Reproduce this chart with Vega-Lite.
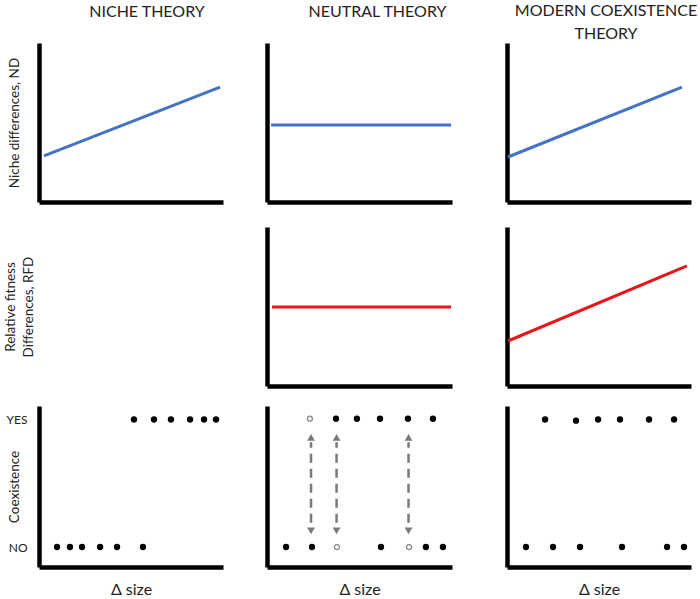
{
  "$schema": "https://vega.github.io/schema/vega-lite/v6.json",
  "padding": {"left": 3, "top": 3, "right": 0, "bottom": 0},
  "config": {
    "font": "Lato",
    "view": {"stroke": null},
    "axis": {
      "domainColor": "#000000",
      "domainWidth": 4.5,
      "ticks": false,
      "tickSize": 0,
      "labels": false,
      "grid": false,
      "titleFont": "Lato",
      "titleFontWeight": "normal",
      "titleColor": "#222222",
      "titleFontSize": 13.5,
      "labelFont": "Lato",
      "labelColor": "#222222",
      "labelFontSize": 12
    },
    "title": {"font": "Lato", "fontSize": 16, "fontWeight": "normal", "color": "#222222", "baseline": "bottom", "lineHeight": 23, "anchor": "middle"},
    "line": {"strokeWidth": 3},
    "point": {"size": 40}
  },
  "spacing": 20,
  "vconcat": [
    {
      "spacing": 25,
      "vconcat": [
        {
          "spacing": 44,
          "bounds": "flush",
          "hconcat": [
            {
              "width": 184, "height": 159,
              "title": {"text": "NICHE THEORY", "dx": 16, "offset": 23},
              "data": {"values": [{"x": 2.7, "y": 29}, {"x": 98.4, "y": 72.3}]},
              "mark": {"type": "line", "color": "#4472C4"},
              "encoding": {
                "x": {"field": "x", "type": "quantitative", "scale": {"domain": [0, 100], "nice": false, "zero": false}, "axis": {"title": null}},
                "y": {"field": "y", "type": "quantitative", "scale": {"domain": [0, 100], "nice": false, "zero": false}, "axis": {"title": "Niche differences, ND", "titlePadding": 18}}
              }
            },
            {
              "spacing": 55,
              "bounds": "flush",
              "hconcat": [
                {
                  "width": 185, "height": 159,
                  "title": {"text": "NEUTRAL THEORY", "dx": 18, "offset": 23},
                  "data": {"values": [{"x": 2.2, "y": 48.4}, {"x": 99.5, "y": 48.4}]},
                  "mark": {"type": "line", "color": "#4472C4"},
                  "encoding": {
                    "x": {"field": "x", "type": "quantitative", "scale": {"domain": [0, 100], "nice": false, "zero": false}, "axis": {"title": null}},
                    "y": {"field": "y", "type": "quantitative", "scale": {"domain": [0, 100], "nice": false, "zero": false}, "axis": {"title": null}}
                  }
                },
                {
                  "width": 184, "height": 159,
                  "title": {"text": ["MODERN COEXISTENCE", "THEORY"], "dx": 7, "offset": 1},
                  "data": {"values": [{"x": 0.5, "y": 28.3}, {"x": 95.1, "y": 72.3}]},
                  "mark": {"type": "line", "color": "#4472C4"},
                  "encoding": {
                    "x": {"field": "x", "type": "quantitative", "scale": {"domain": [0, 100], "nice": false, "zero": false}, "axis": {"title": null}},
                    "y": {"field": "y", "type": "quantitative", "scale": {"domain": [0, 100], "nice": false, "zero": false}, "axis": {"title": null}}
                  }
                }
              ]
            }
          ]
        },
        {
          "spacing": 44,
          "bounds": "flush",
          "hconcat": [
            {
              "width": 184, "height": 159,
              "data": {"values": [{"x": 50, "y": 50}]},
              "mark": {"type": "point", "opacity": 0},
              "encoding": {
                "x": {"field": "x", "type": "quantitative", "scale": {"domain": [0, 100], "nice": false, "zero": false}, "axis": null},
                "y": {"field": "y", "type": "quantitative", "scale": {"domain": [0, 100], "nice": false, "zero": false}, "axis": {"domain": false, "title": ["Relative fitness", "Differences, RFD"], "titleLineHeight": 18, "titlePadding": 4}}
              }
            },
            {
              "spacing": 55,
              "bounds": "flush",
              "hconcat": [
                {
                  "width": 185, "height": 159,
                  "data": {"values": [{"x": 2.7, "y": 49.7}, {"x": 99.5, "y": 49.7}]},
                  "mark": {"type": "line", "color": "#E8161B"},
                  "encoding": {
                    "x": {"field": "x", "type": "quantitative", "scale": {"domain": [0, 100], "nice": false, "zero": false}, "axis": {"title": null}},
                    "y": {"field": "y", "type": "quantitative", "scale": {"domain": [0, 100], "nice": false, "zero": false}, "axis": {"title": null}}
                  }
                },
                {
                  "width": 184, "height": 159,
                  "data": {"values": [{"x": 0.5, "y": 28.3}, {"x": 97.8, "y": 75.5}]},
                  "mark": {"type": "line", "color": "#E8161B"},
                  "encoding": {
                    "x": {"field": "x", "type": "quantitative", "scale": {"domain": [0, 100], "nice": false, "zero": false}, "axis": {"title": null}},
                    "y": {"field": "y", "type": "quantitative", "scale": {"domain": [0, 100], "nice": false, "zero": false}, "axis": {"title": null}}
                  }
                }
              ]
            }
          ]
        }
      ]
    },
    {
      "spacing": 44,
      "bounds": "flush",
      "hconcat": [
        {
          "width": 184, "height": 161,
          "data": {"values": [
            {"x": 9.8, "y": 12.4}, {"x": 16.8, "y": 12.4}, {"x": 23.4, "y": 12.4}, {"x": 33.2, "y": 12.4}, {"x": 42.4, "y": 12.4}, {"x": 56.5, "y": 12.4},
            {"x": 51.6, "y": 91.6}, {"x": 62.5, "y": 91.6}, {"x": 71.7, "y": 91.6}, {"x": 82.1, "y": 91.6}, {"x": 89.7, "y": 91.6}, {"x": 96.2, "y": 91.6}
          ]},
          "mark": {"type": "point", "filled": true, "color": "#000000", "opacity": 1},
          "encoding": {
            "x": {"field": "x", "type": "quantitative", "scale": {"domain": [0, 100], "nice": false, "zero": false}, "axis": {"title": "Δ size", "titleFontSize": 16, "titlePadding": 14}},
            "y": {"field": "y", "type": "quantitative", "scale": {"domain": [0, 100], "nice": false, "zero": false}, "axis": {"title": "Coexistence", "labels": true, "values": [12.4, 91.6], "labelExpr": "datum.value > 50 ? 'YES' : 'NO'", "labelPadding": 12, "titlePadding": -15}}
          }
        },
        {
          "spacing": 55,
          "bounds": "flush",
          "hconcat": [
            {
              "width": 185, "height": 161,
              "encoding": {
                "x": {"field": "x", "type": "quantitative", "scale": {"domain": [0, 100], "nice": false, "zero": false}, "axis": {"title": "Δ size", "titleFontSize": 16, "titlePadding": 14}},
                "y": {"field": "y", "type": "quantitative", "scale": {"domain": [0, 100], "nice": false, "zero": false}, "axis": {"title": null}}
              },
              "layer": [
                {
                  "data": {"values": [{"x": 23.8, "y": 27.5, "y2": 77.5}, {"x": 37.6, "y": 27.5, "y2": 77.5}, {"x": 76.5, "y": 27.5, "y2": 77.5}]},
                  "mark": {"type": "rule", "color": "#7a7a7a", "strokeWidth": 2.5, "strokeDash": [9, 6]},
                  "encoding": {"y2": {"field": "y2"}}
                },
                {
                  "data": {"values": [{"x": 23.8, "y": 80.5}, {"x": 37.6, "y": 80.5}, {"x": 76.5, "y": 80.5}]},
                  "mark": {"type": "point", "shape": "triangle-up", "filled": true, "color": "#7a7a7a", "size": 60, "opacity": 1}
                },
                {
                  "data": {"values": [{"x": 23.8, "y": 22.5}, {"x": 37.6, "y": 22.5}, {"x": 76.5, "y": 22.5}]},
                  "mark": {"type": "point", "shape": "triangle-down", "filled": true, "color": "#7a7a7a", "size": 60, "opacity": 1}
                },
                {
                  "data": {"values": [{"x": 23.2, "y": 92.1}, {"x": 37.8, "y": 12.4}, {"x": 76.8, "y": 12.4}]},
                  "mark": {"type": "point", "filled": false, "color": "#8a8a8a", "strokeWidth": 1.3, "size": 25, "opacity": 1}
                },
                {
                  "data": {"values": [
                    {"x": 37.3, "y": 92.1}, {"x": 48.6, "y": 92.1}, {"x": 61.1, "y": 92.1}, {"x": 76.2, "y": 92.1}, {"x": 89.7, "y": 92.1},
                    {"x": 10.3, "y": 12.4}, {"x": 24.3, "y": 12.4}, {"x": 61.6, "y": 12.4}, {"x": 85.9, "y": 12.4}, {"x": 95.1, "y": 12.4}
                  ]},
                  "mark": {"type": "point", "filled": true, "color": "#000000", "opacity": 1}
                }
              ]
            },
            {
              "width": 184, "height": 161,
              "data": {"values": [
                {"x": 20.7, "y": 91.6}, {"x": 37.5, "y": 90.9}, {"x": 49.5, "y": 91.6}, {"x": 61.4, "y": 91.6}, {"x": 77.2, "y": 91.6}, {"x": 90.8, "y": 91.6},
                {"x": 10.3, "y": 12.4}, {"x": 25.0, "y": 12.4}, {"x": 39.7, "y": 12.4}, {"x": 62.5, "y": 12.4}, {"x": 87.0, "y": 12.4}, {"x": 96.2, "y": 12.4}
              ]},
              "mark": {"type": "point", "filled": true, "color": "#000000", "opacity": 1},
              "encoding": {
                "x": {"field": "x", "type": "quantitative", "scale": {"domain": [0, 100], "nice": false, "zero": false}, "axis": {"title": "Δ size", "titleFontSize": 16, "titlePadding": 14}},
                "y": {"field": "y", "type": "quantitative", "scale": {"domain": [0, 100], "nice": false, "zero": false}, "axis": {"title": null}}
              }
            }
          ]
        }
      ]
    }
  ]
}
